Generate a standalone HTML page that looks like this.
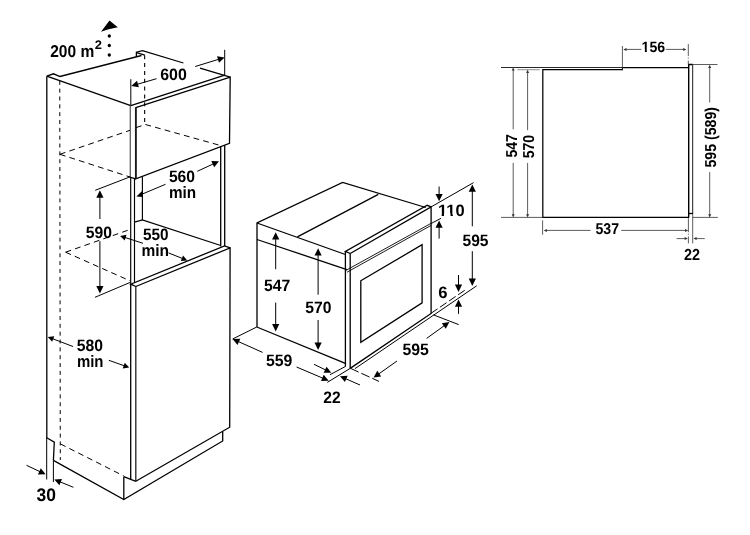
<!DOCTYPE html>
<html><head><meta charset="utf-8"><title>Installation dimensions</title>
<style>
html,body{margin:0;padding:0;background:#fff;}
svg{display:block;will-change:transform;}
text{font-family:"Liberation Sans",sans-serif;font-weight:bold;text-rendering:geometricPrecision;}
</style></head><body>
<svg width="750" height="535" viewBox="0 0 750 535">
<rect width="750" height="535" fill="#fff"/>
<line x1="46.8" y1="76.2" x2="46.8" y2="438" stroke="#000" stroke-width="1.3" stroke-linecap="butt"/>
<polyline points="46.8,76.2 53.5,73.8 60,76.5 141.5,55.5" fill="none" stroke="#000" stroke-width="1.3" stroke-linejoin="miter"/>
<polyline points="136.4,56.8 136.4,52.2 142.5,50.6 183.4,63" fill="none" stroke="#000" stroke-width="1.3" stroke-linejoin="miter"/>
<line x1="136.6" y1="52.6" x2="144.8" y2="55.2" stroke="#000" stroke-width="1.3" stroke-linecap="butt"/>
<line x1="200" y1="68.1" x2="230.2" y2="77.1" stroke="#000" stroke-width="1.3" stroke-linecap="butt"/>
<line x1="46.8" y1="76.2" x2="130.8" y2="105.7" stroke="#000" stroke-width="1.3" stroke-linecap="butt"/>
<line x1="130.8" y1="105.7" x2="224.7" y2="75.1" stroke="#000" stroke-width="1.3" stroke-linecap="butt"/>
<polygon points="135.8,107.7 230.2,77.1 229.5,143.4 135.8,178.9" fill="none" stroke="#000" stroke-width="1.3" stroke-linejoin="miter"/>
<line x1="130.25" y1="105.6" x2="130.25" y2="177.3" stroke="#444" stroke-width="1.1" stroke-linecap="butt"/>
<line x1="130.7" y1="177.3" x2="130.7" y2="284.3" stroke="#000" stroke-width="1.15" stroke-linecap="butt"/>
<line x1="130.7" y1="284.3" x2="130.7" y2="479.8" stroke="#000" stroke-width="1.3" stroke-linecap="butt"/>
<line x1="135.8" y1="107.7" x2="135.8" y2="178.8" stroke="#1a1a1a" stroke-width="1.7" stroke-linecap="butt"/>
<line x1="134.5" y1="178.6" x2="134.5" y2="282.9" stroke="#000" stroke-width="1.15" stroke-linecap="butt"/>
<line x1="135.8" y1="286.4" x2="135.8" y2="481.3" stroke="#222" stroke-width="1.3" stroke-linecap="butt"/>
<line x1="142.4" y1="176.8" x2="142.4" y2="220" stroke="#000" stroke-width="1.15" stroke-linecap="butt"/>
<line x1="128.9" y1="176.9" x2="135.8" y2="178.9" stroke="#000" stroke-width="1.1" stroke-linecap="butt"/>
<line x1="220.7" y1="146.1" x2="220.7" y2="246.6" stroke="#000" stroke-width="1.3" stroke-linecap="butt"/>
<line x1="224.7" y1="145.2" x2="224.7" y2="246" stroke="#000" stroke-width="1.3" stroke-linecap="butt"/>
<polyline points="134.5,222.2 142.4,219.9 220.8,245.5" fill="none" stroke="#000" stroke-width="1.3" stroke-linejoin="miter"/>
<polyline points="135.8,286.5 130.7,284.2 224.5,245.9 230.1,247.9" fill="none" stroke="#000" stroke-width="1.3" stroke-linejoin="miter"/>
<polyline points="135.8,286.5 230.1,247.9 229.7,427.2 135.8,481.3" fill="none" stroke="#000" stroke-width="1.3" stroke-linejoin="miter"/>
<polyline points="53.4,460.4 123.8,499.5 222.7,441 222.7,431.6" fill="none" stroke="#000" stroke-width="1.3" stroke-linejoin="miter"/>
<line x1="123.8" y1="476.7" x2="123.8" y2="499.5" stroke="#000" stroke-width="1.3" stroke-linecap="butt"/>
<line x1="123.8" y1="476.7" x2="135.8" y2="481.3" stroke="#000" stroke-width="1.3" stroke-linecap="butt"/>
<polyline points="46.7,437.8 54.3,442.2 53.4,460.4" fill="none" stroke="#000" stroke-width="1.3" stroke-linejoin="miter"/>
<line x1="46.7" y1="438" x2="46.7" y2="479.5" stroke="#000" stroke-width="1.0" stroke-linecap="butt"/>
<line x1="53.4" y1="460.4" x2="53.4" y2="482" stroke="#000" stroke-width="1.0" stroke-linecap="butt"/>
<line x1="59.75" y1="80.8" x2="60.3" y2="460" stroke="#000" stroke-width="1.0" stroke-dasharray="4 3.84" stroke-linecap="butt"/>
<line x1="144.65" y1="55.2" x2="144.65" y2="124.2" stroke="#000" stroke-width="1.1" stroke-dasharray="4 3.84" stroke-linecap="butt"/>
<line x1="59.9" y1="154.3" x2="130" y2="130.3" stroke="#000" stroke-width="1.0" stroke-dasharray="5.8 4.2" stroke-linecap="butt"/>
<line x1="136" y1="127.6" x2="145.4" y2="124.5" stroke="#000" stroke-width="1.0" stroke-dasharray="5.8 4.2" stroke-linecap="butt"/>
<line x1="145.4" y1="124.5" x2="220.8" y2="145.6" stroke="#000" stroke-width="1.0" stroke-dasharray="5.8 4.2" stroke-linecap="butt"/>
<line x1="59.9" y1="154.3" x2="130" y2="177" stroke="#000" stroke-width="1.0" stroke-dasharray="5.8 4.2" stroke-linecap="butt"/>
<line x1="65.6" y1="252.2" x2="130" y2="229.5" stroke="#000" stroke-width="1.0" stroke-dasharray="5.8 4.2" stroke-linecap="butt"/>
<line x1="65.6" y1="252.2" x2="130" y2="280.8" stroke="#000" stroke-width="1.0" stroke-dasharray="5.8 4.2" stroke-linecap="butt"/>
<line x1="60.4" y1="443.9" x2="123.8" y2="476" stroke="#000" stroke-width="1.0" stroke-dasharray="5.8 4.2" stroke-linecap="butt"/>
<polygon points="109.5,20.4 101,31.8 108.6,29.3 117.8,27.3" fill="#000"/>
<circle cx="109.3" cy="36.0" r="1.65" fill="#000"/>
<circle cx="109.3" cy="45.5" r="1.65" fill="#000"/>
<circle cx="109.3" cy="55.0" r="1.65" fill="#000"/>
<text x="50.2" y="56.9" font-size="17.2" text-anchor="start" fill="#000" textLength="44.0" lengthAdjust="spacingAndGlyphs">200 m</text>
<text x="94.7" y="48.9" font-size="12.4" text-anchor="start" fill="#000" textLength="7.2" lengthAdjust="spacingAndGlyphs">2</text>
<line x1="224.7" y1="49.8" x2="224.7" y2="75.1" stroke="#000" stroke-width="1.0" stroke-linecap="butt"/>
<line x1="130.8" y1="79.2" x2="130.8" y2="105.6" stroke="#000" stroke-width="1.0" stroke-linecap="butt"/>
<line x1="156.5" y1="78.7" x2="136.97" y2="84.36" stroke="#000" stroke-width="1.0" stroke-linecap="butt"/>
<polygon points="131.3,86 136.98,80.81 138.87,87.35" fill="#000"/>
<line x1="195.2" y1="66.5" x2="218.96" y2="59.23" stroke="#000" stroke-width="1.0" stroke-linecap="butt"/>
<polygon points="224.6,57.5 219.0,62.77 217.01,56.27" fill="#000"/>
<text x="160.2" y="80.0" font-size="16.5" text-anchor="start" fill="#000" textLength="26.6" lengthAdjust="spacingAndGlyphs">600</text>
<line x1="165.5" y1="184.3" x2="142.4" y2="194.0" stroke="#000" stroke-width="1.0" stroke-linecap="butt"/>
<polygon points="136.4,196.6 142.6,190.4 142.6,196.9" fill="#000"/>
<line x1="197.3" y1="171.3" x2="213.64" y2="163.77" stroke="#000" stroke-width="1.0" stroke-linecap="butt"/>
<polygon points="219,161.3 214.16,167.28 211.31,161.1" fill="#000"/>
<text x="168.9" y="181.8" font-size="16.5" text-anchor="start" fill="#000" textLength="26.2" lengthAdjust="spacingAndGlyphs">560</text>
<text x="168.9" y="198.0" font-size="16.5" text-anchor="start" fill="#000" textLength="27.2" lengthAdjust="spacingAndGlyphs">min</text>
<line x1="95.2" y1="190.3" x2="128.9" y2="177.3" stroke="#000" stroke-width="1.0" stroke-linecap="butt"/>
<line x1="95" y1="297.3" x2="130.2" y2="282.4" stroke="#000" stroke-width="1.0" stroke-linecap="butt"/>
<line x1="99.9" y1="219" x2="99.9" y2="196.7" stroke="#000" stroke-width="1.0" stroke-linecap="butt"/>
<polygon points="99.9,190.3 103.5,197.7 96.3,197.7" fill="#000"/>
<line x1="99.9" y1="241.2" x2="99.9" y2="287.1" stroke="#000" stroke-width="1.0" stroke-linecap="butt"/>
<polygon points="99.9,293.5 96.3,286.1 103.5,286.1" fill="#000"/>
<text x="85.8" y="237.5" font-size="16.5" text-anchor="start" fill="#000" textLength="26.2" lengthAdjust="spacingAndGlyphs">590</text>
<line x1="143" y1="243.3" x2="124.67" y2="237.38" stroke="#000" stroke-width="1.0" stroke-linecap="butt"/>
<polygon points="120.1,235.9 126.54,234.83 124.7,240.54" fill="#000"/>
<line x1="168.5" y1="252.9" x2="182.84" y2="258.62" stroke="#000" stroke-width="1.0" stroke-linecap="butt"/>
<polygon points="187.3,260.4 180.8,261.04 183.02,255.46" fill="#000"/>
<text x="143.0" y="239.6" font-size="16.5" text-anchor="start" fill="#000" textLength="25.6" lengthAdjust="spacingAndGlyphs">550</text>
<text x="141.5" y="255.7" font-size="16.5" text-anchor="start" fill="#000" textLength="27.6" lengthAdjust="spacingAndGlyphs">min</text>
<line x1="73" y1="346.5" x2="52.29" y2="338.61" stroke="#000" stroke-width="1.0" stroke-linecap="butt"/>
<polygon points="47.8,336.9 54.29,336.16 52.15,341.77" fill="#000"/>
<line x1="108.8" y1="360.3" x2="124.67" y2="365.9" stroke="#000" stroke-width="1.0" stroke-linecap="butt"/>
<polygon points="129.2,367.5 122.73,368.4 124.73,362.74" fill="#000"/>
<text x="76.8" y="350.9" font-size="16.5" text-anchor="start" fill="#000" textLength="26.2" lengthAdjust="spacingAndGlyphs">580</text>
<text x="76.9" y="366.6" font-size="16.5" text-anchor="start" fill="#000" textLength="26.6" lengthAdjust="spacingAndGlyphs">min</text>
<line x1="26.5" y1="465.3" x2="40.26" y2="471.79" stroke="#000" stroke-width="1.0" stroke-linecap="butt"/>
<polygon points="45.6,474.3 37.91,474.43 40.81,468.28" fill="#000"/>
<line x1="73.4" y1="487.3" x2="59.76" y2="481.73" stroke="#000" stroke-width="1.0" stroke-linecap="butt"/>
<polygon points="54.3,479.5 61.97,478.96 59.4,485.26" fill="#000"/>
<text x="36.5" y="500.6" font-size="18.3" text-anchor="start" fill="#000" textLength="19.4" lengthAdjust="spacingAndGlyphs">30</text>
<polyline points="257,327 257,223 342.6,182.4 425.8,207.5" fill="none" stroke="#000" stroke-width="1.3" stroke-linejoin="miter"/>
<line x1="257" y1="223" x2="345.4" y2="254.5" stroke="#000" stroke-width="1.3" stroke-linecap="butt"/>
<line x1="297.4" y1="236.9" x2="378.3" y2="194.3" stroke="#000" stroke-width="1.3" stroke-linecap="butt"/>
<line x1="257" y1="239.5" x2="346.9" y2="269.6" stroke="#000" stroke-width="1.3" stroke-linecap="butt"/>
<line x1="256.8" y1="327" x2="346" y2="363.6" stroke="#000" stroke-width="1.3" stroke-linecap="butt"/>
<line x1="345.4" y1="251.4" x2="345.4" y2="366.6" stroke="#000" stroke-width="1.3" stroke-linecap="butt"/>
<line x1="350.2" y1="253.5" x2="350.2" y2="368.4" stroke="#000" stroke-width="1.3" stroke-linecap="butt"/>
<polyline points="350.2,253.5 345.4,251.4 427.2,205.3 431.1,206.9" fill="none" stroke="#000" stroke-width="1.3" stroke-linejoin="miter"/>
<polyline points="350.2,253.5 431.1,206.9 431.1,313.5 350.2,368.4" fill="none" stroke="#000" stroke-width="1.3" stroke-linejoin="miter"/>
<line x1="346.1" y1="270.3" x2="431.1" y2="223.3" stroke="#000" stroke-width="0.9" stroke-linecap="butt"/>
<line x1="347" y1="272.2" x2="431.1" y2="225.4" stroke="#000" stroke-width="0.9" stroke-linecap="butt"/>
<polygon points="360.8,280.8 422.1,244.7 422.1,302.8 360.8,342.4" fill="none" stroke="#000" stroke-width="1.3" stroke-linejoin="miter"/>
<line x1="354.9" y1="368.7" x2="476.7" y2="285.8" stroke="#000" stroke-width="1.0" stroke-linecap="butt"/>
<line x1="275.7" y1="269.2" x2="275.7" y2="238.6" stroke="#000" stroke-width="1.0" stroke-linecap="butt"/>
<polygon points="275.7,232.2 279.3,239.6 272.1,239.6" fill="#000"/>
<line x1="275.7" y1="302.6" x2="275.7" y2="325.0" stroke="#000" stroke-width="1.0" stroke-linecap="butt"/>
<polygon points="275.7,331.4 272.1,324.0 279.3,324.0" fill="#000"/>
<text x="263.9" y="290.8" font-size="16.5" text-anchor="start" fill="#000" textLength="26.3" lengthAdjust="spacingAndGlyphs">547</text>
<line x1="318.1" y1="294.7" x2="318.1" y2="254.6" stroke="#000" stroke-width="1.0" stroke-linecap="butt"/>
<polygon points="318.1,248.2 321.7,255.6 314.5,255.6" fill="#000"/>
<line x1="318.1" y1="320" x2="318.1" y2="343.6" stroke="#000" stroke-width="1.0" stroke-linecap="butt"/>
<polygon points="318.1,350 314.5,342.6 321.7,342.6" fill="#000"/>
<text x="305.2" y="313.4" font-size="16.5" text-anchor="start" fill="#000" textLength="26.2" lengthAdjust="spacingAndGlyphs">570</text>
<line x1="256.8" y1="327" x2="232.6" y2="339" stroke="#000" stroke-width="1.0" stroke-linecap="butt"/>
<line x1="262.6" y1="352.4" x2="237.99" y2="341.41" stroke="#000" stroke-width="1.0" stroke-linecap="butt"/>
<polygon points="232.6,339 240.29,338.71 237.51,344.92" fill="#000"/>
<line x1="296.6" y1="367" x2="323.27" y2="378.38" stroke="#000" stroke-width="1.0" stroke-linecap="butt"/>
<polygon points="328.7,380.7 321.02,381.12 323.69,374.86" fill="#000"/>
<text x="266.0" y="366.1" font-size="16.5" text-anchor="start" fill="#000" textLength="26.4" lengthAdjust="spacingAndGlyphs">559</text>
<line x1="327.3" y1="382.4" x2="350.2" y2="368.4" stroke="#000" stroke-width="1.0" stroke-linecap="butt"/>
<line x1="330" y1="374.7" x2="345.6" y2="366.4" stroke="#000" stroke-width="1.0" stroke-linecap="butt"/>
<line x1="314" y1="364.3" x2="325.99" y2="370.12" stroke="#000" stroke-width="1.0" stroke-linecap="butt"/>
<polygon points="331.3,372.7 323.61,372.74 326.58,366.63" fill="#000"/>
<line x1="360" y1="385" x2="345.4" y2="378.58" stroke="#000" stroke-width="1.0" stroke-linecap="butt"/>
<polygon points="340,376.2 347.68,375.87 344.95,382.09" fill="#000"/>
<text x="323.2" y="402.5" font-size="16.5" text-anchor="start" fill="#000" textLength="17.4" lengthAdjust="spacingAndGlyphs">22</text>
<line x1="433.5" y1="314.9" x2="458.7" y2="324.6" stroke="#000" stroke-width="1.0" stroke-linecap="butt"/>
<line x1="350.4" y1="368.3" x2="379" y2="381.4" stroke="#000" stroke-width="1.0" stroke-dasharray="9 3" stroke-linecap="butt"/>
<line x1="397" y1="361" x2="378.41" y2="374.19" stroke="#000" stroke-width="1.0" stroke-linecap="butt"/>
<polygon points="373.6,377.6 377.26,370.83 381.19,376.38" fill="#000"/>
<line x1="426.6" y1="338.4" x2="444.61" y2="325.45" stroke="#000" stroke-width="1.0" stroke-linecap="butt"/>
<polygon points="449.4,322 445.78,328.79 441.81,323.27" fill="#000"/>
<text x="402.4" y="355.1" font-size="16.5" text-anchor="start" fill="#000" textLength="26.4" lengthAdjust="spacingAndGlyphs">595</text>
<line x1="431.1" y1="206.9" x2="473.6" y2="182.6" stroke="#000" stroke-width="1.0" stroke-linecap="butt"/>
<line x1="431.1" y1="223.5" x2="441" y2="218.3" stroke="#000" stroke-width="1.0" stroke-linecap="butt"/>
<line x1="439.1" y1="186.5" x2="439.1" y2="194.9" stroke="#000" stroke-width="1.0" stroke-linecap="butt"/>
<polygon points="439.1,201.3 435.5,193.9 442.7,193.9" fill="#000"/>
<line x1="439.1" y1="238.6" x2="439.1" y2="226.8" stroke="#000" stroke-width="1.0" stroke-linecap="butt"/>
<polygon points="439.1,220.4 442.7,227.8 435.5,227.8" fill="#000"/>
<text x="438.0" y="216.3" font-size="16.5" text-anchor="start" fill="#000" textLength="26.6" lengthAdjust="spacingAndGlyphs">110</text>
<rect x="438.1" y="213.52" width="3.57" height="3.38" fill="#fff"/>
<rect x="443.96" y="213.52" width="3.36" height="3.38" fill="#fff"/>
<rect x="446.97" y="213.52" width="3.57" height="3.38" fill="#fff"/>
<rect x="452.83" y="213.52" width="3.36" height="3.38" fill="#fff"/>
<line x1="472.3" y1="226.3" x2="472.3" y2="190.8" stroke="#000" stroke-width="1.0" stroke-linecap="butt"/>
<polygon points="472.3,184.4 475.9,191.8 468.7,191.8" fill="#000"/>
<line x1="472.3" y1="251.2" x2="472.3" y2="279.6" stroke="#000" stroke-width="1.0" stroke-linecap="butt"/>
<polygon points="472.3,286 468.7,278.6 475.9,278.6" fill="#000"/>
<text x="462.5" y="246.0" font-size="16.5" text-anchor="start" fill="#000" textLength="26.0" lengthAdjust="spacingAndGlyphs">595</text>
<line x1="430.9" y1="313.4" x2="465.4" y2="289.8" stroke="#000" stroke-width="1.0" stroke-dasharray="8 3" stroke-linecap="butt"/>
<line x1="458.5" y1="275" x2="458.5" y2="285.5" stroke="#000" stroke-width="1.0" stroke-linecap="butt"/>
<polygon points="458.5,291.9 454.9,284.5 462.1,284.5" fill="#000"/>
<line x1="458.5" y1="313.8" x2="458.5" y2="305.8" stroke="#000" stroke-width="1.0" stroke-linecap="butt"/>
<polygon points="458.5,299.4 462.1,306.8 454.9,306.8" fill="#000"/>
<text x="438.3" y="297.6" font-size="16.5" text-anchor="start" fill="#000" textLength="9.3" lengthAdjust="spacingAndGlyphs">6</text>
<line x1="501" y1="67.5" x2="622.4" y2="67.5" stroke="#111" stroke-width="0.9" stroke-linecap="butt"/>
<line x1="622.4" y1="67.6" x2="688.4" y2="67.6" stroke="#000" stroke-width="1.1" stroke-linecap="butt"/>
<polyline points="622.4,69.5 542.8,69.5 542.8,217.4 689,217.4" fill="none" stroke="#000" stroke-width="1.25" stroke-linejoin="miter"/>
<line x1="622.4" y1="70.3" x2="622.4" y2="67.4" stroke="#000" stroke-width="1.0" stroke-linecap="butt"/>
<line x1="517.4" y1="69.7" x2="539.8" y2="69.7" stroke="#999" stroke-width="1.1" stroke-linecap="butt"/>
<line x1="501" y1="217.4" x2="542" y2="217.4" stroke="#333" stroke-width="0.8" stroke-linecap="butt"/>
<polyline points="688.7,217.4 688.7,64.5 692.7,64.5" fill="none" stroke="#000" stroke-width="1.4" stroke-linejoin="miter"/>
<polyline points="692.7,64.5 692.7,213.6" fill="none" stroke="#000" stroke-width="0.9" stroke-linejoin="miter"/>
<line x1="688.7" y1="213.5" x2="693.1" y2="213.5" stroke="#000" stroke-width="1.3" stroke-linecap="butt"/>
<line x1="692.7" y1="64.5" x2="717.5" y2="64.5" stroke="#333" stroke-width="0.8" stroke-linecap="butt"/>
<line x1="692.7" y1="217.4" x2="717.8" y2="217.4" stroke="#333" stroke-width="0.8" stroke-linecap="butt"/>
<line x1="692.7" y1="214" x2="692.7" y2="243.4" stroke="#333" stroke-width="0.8" stroke-linecap="butt"/>
<line x1="688.3" y1="44.1" x2="688.3" y2="64.6" stroke="#333" stroke-width="0.8" stroke-dasharray="12 1.5 1 2 6" stroke-linecap="butt"/>
<line x1="688.4" y1="218.2" x2="688.4" y2="243.4" stroke="#333" stroke-width="0.8" stroke-dasharray="14 1.5 1 1.8 9" stroke-linecap="butt"/>
<line x1="622.4" y1="46" x2="622.4" y2="67.4" stroke="#333" stroke-width="0.8" stroke-linecap="butt"/>
<line x1="641.5" y1="49.4" x2="625.5" y2="49.4" stroke="#333" stroke-width="0.8" stroke-linecap="butt"/>
<polygon points="623.3,49.4 626.5,47.9 626.5,50.9" fill="#333"/>
<line x1="665.8" y1="49.4" x2="684.2" y2="49.4" stroke="#333" stroke-width="0.8" stroke-linecap="butt"/>
<polygon points="686.4,49.4 683.2,50.9 683.2,47.9" fill="#333"/>
<text x="641.6" y="51.8" font-size="14.8" text-anchor="start" fill="#000" textLength="23.6" lengthAdjust="spacingAndGlyphs">156</text>
<rect x="641.59" y="49.19" width="3.26" height="3.21" fill="#fff"/>
<rect x="646.89" y="49.19" width="3.08" height="3.21" fill="#fff"/>
<line x1="513.2" y1="129.3" x2="513.2" y2="69.6" stroke="#333" stroke-width="0.8" stroke-linecap="butt"/>
<polygon points="513.2,67.4 514.7,70.6 511.7,70.6" fill="#333"/>
<line x1="513.2" y1="162.9" x2="513.2" y2="215.2" stroke="#333" stroke-width="0.8" stroke-linecap="butt"/>
<polygon points="513.2,217.4 511.7,214.2 514.7,214.2" fill="#333"/>
<line x1="527.6" y1="130.2" x2="527.6" y2="72.0" stroke="#333" stroke-width="0.8" stroke-linecap="butt"/>
<polygon points="527.6,69.8 529.1,73.0 526.1,73.0" fill="#333"/>
<line x1="527.6" y1="162.9" x2="527.6" y2="215.2" stroke="#333" stroke-width="0.8" stroke-linecap="butt"/>
<polygon points="527.6,217.4 526.1,214.2 529.1,214.2" fill="#333"/>
<text x="517.3" y="157.5" font-size="15.8" text-anchor="start" fill="#000" textLength="23.4" lengthAdjust="spacingAndGlyphs" transform="rotate(-90 517.3 157.5)">547</text>
<text x="534.1" y="158.3" font-size="15.8" text-anchor="start" fill="#000" textLength="23.4" lengthAdjust="spacingAndGlyphs" transform="rotate(-90 534.1 158.3)">570</text>
<line x1="542.6" y1="220.3" x2="542.6" y2="234.7" stroke="#333" stroke-width="0.8" stroke-linecap="butt"/>
<line x1="590.6" y1="230.4" x2="545.9" y2="230.4" stroke="#333" stroke-width="0.8" stroke-linecap="butt"/>
<polygon points="543.7,230.4 546.9,228.9 546.9,231.9" fill="#333"/>
<line x1="621.3" y1="230.4" x2="686.0" y2="230.4" stroke="#333" stroke-width="0.8" stroke-linecap="butt"/>
<polygon points="688.2,230.4 685.0,231.9 685.0,228.9" fill="#333"/>
<text x="595.5" y="234.4" font-size="15.6" text-anchor="start" fill="#000" textLength="23.6" lengthAdjust="spacingAndGlyphs">537</text>
<line x1="676.6" y1="238.6" x2="685.7" y2="238.6" stroke="#333" stroke-width="0.8" stroke-linecap="butt"/>
<polygon points="687.9,238.6 684.7,240.1 684.7,237.1" fill="#333"/>
<line x1="704.7" y1="238.6" x2="695.6" y2="238.6" stroke="#333" stroke-width="0.8" stroke-linecap="butt"/>
<polygon points="693.4,238.6 696.6,237.1 696.6,240.1" fill="#333"/>
<text x="683.9" y="260.4" font-size="16.0" text-anchor="start" fill="#000" textLength="16.0" lengthAdjust="spacingAndGlyphs">22</text>
<line x1="709.7" y1="102.5" x2="709.7" y2="67.0" stroke="#333" stroke-width="0.8" stroke-linecap="butt"/>
<polygon points="709.7,64.8 711.2,68.0 708.2,68.0" fill="#333"/>
<line x1="709.7" y1="172.1" x2="709.7" y2="215.2" stroke="#333" stroke-width="0.8" stroke-linecap="butt"/>
<polygon points="709.7,217.4 708.2,214.2 711.2,214.2" fill="#333"/>
<text x="716.0" y="167.5" font-size="15.8" text-anchor="start" fill="#000" textLength="60.5" lengthAdjust="spacingAndGlyphs" transform="rotate(-90 716.0 167.5)">595 (589)</text>
</svg>
</body></html>
